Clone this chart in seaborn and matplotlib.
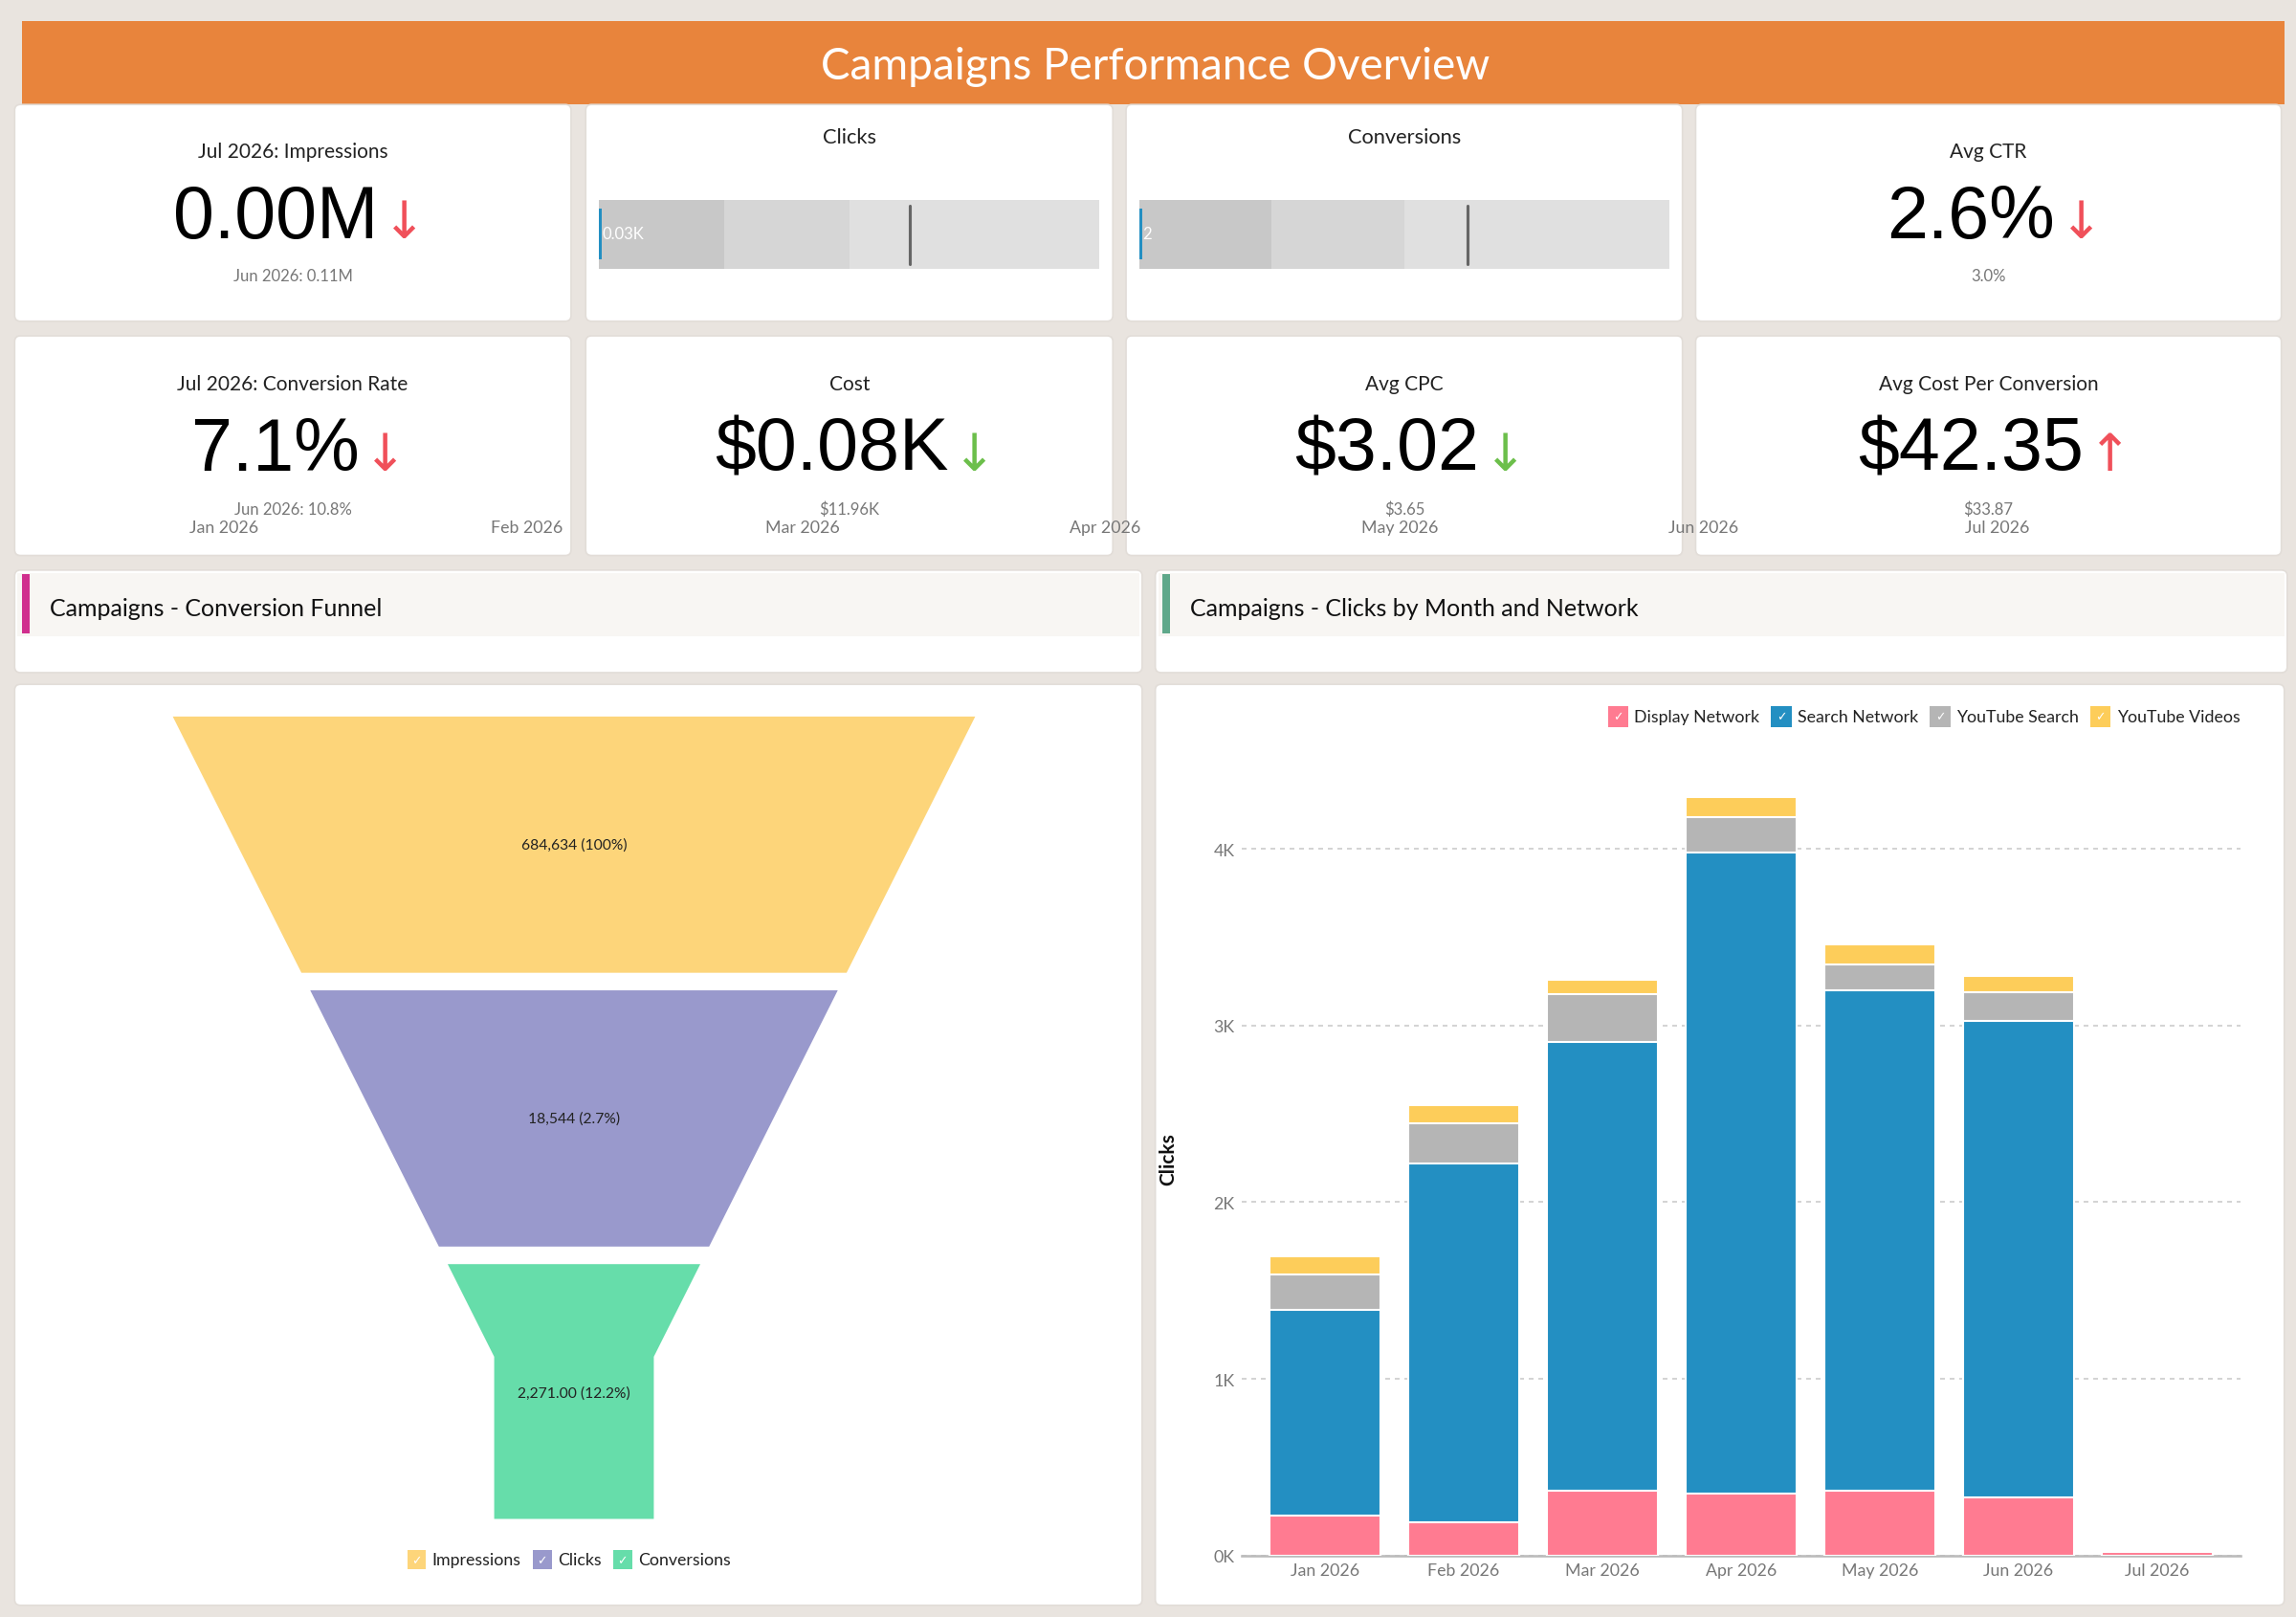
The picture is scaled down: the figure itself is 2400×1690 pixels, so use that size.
import matplotlib
matplotlib.use("Agg")
import matplotlib.pyplot as plt
import seaborn as sns
import pandas as pd
from matplotlib.patches import FancyBboxPatch, Rectangle, Polygon

sns.set_theme(style="white")
plt.rcParams['font.family'] = ['Lato', 'DejaVu Sans']

months = ["Jan 2026", "Feb 2026", "Mar 2026", "Apr 2026", "May 2026", "Jun 2026", "Jul 2026"]
display_net = [225, 189, 367, 351, 367, 328, 22]
search_net = [1168, 2031, 2541, 3629, 2832, 2699, 0]
yt_search = [198, 225, 268, 202, 146, 162, 8]
yt_videos = [100, 106, 80, 109, 112, 90, 0]
series_names = ["Display Network", "Search Network", "YouTube Search", "YouTube Videos"]
series_colors = ["#FF7B91", "#238FC2", "#B5B5B5", "#FDCD5A"]

funnel_stages = ["Impressions", "Clicks", "Conversions"]
funnel_labels = ["684,634 (100%)", "18,544 (2.7%)", "2,271.00 (12.2%)"]
funnel_colors = ["#FDD57A", "#9999CC", "#66DDAA"]

kpi_titles = ["Jul 2026: Impressions", "Clicks", "Conversions", "Avg CTR",
              "Jul 2026: Conversion Rate", "Cost", "Avg CPC", "Avg Cost Per Conversion"]
kpi_values = ["0.00M", None, None, "2.6%", "7.1%", "$0.08K", "$3.02", "$42.35"]
kpi_arrows = ["↓", None, None, "↓", "↓", "↓", "↓", "↑"]
kpi_arrow_colors = ["#F0505A", None, None, "#F0505A", "#F0505A", "#6CBF4B", "#6CBF4B", "#F0505A"]
kpi_subs = ["Jun 2026: 0.11M", None, None, "3.0%", "Jun 2026: 10.8%", "$11.96K", "$3.65", "$33.87"]
bullet_labels = ["0.03K", "2"]

W, H = 1568, 1105
fig = plt.figure(figsize=(16, 11.273), dpi=150)
fig.patch.set_facecolor("#E9E4DF")
ov = fig.add_axes([0, 0, 1, 1])
ov.set_xlim(0, W); ov.set_ylim(H, 0); ov.axis("off")

def card(x0, y0, x1, y1, fc="white", z=1):
    ov.add_patch(FancyBboxPatch((x0, y0), x1 - x0, y1 - y0,
                                boxstyle="round,pad=0,rounding_size=4",
                                fc=fc, ec="#E2DDD8", lw=0.8, zorder=z))

# header
ov.add_patch(Rectangle((15, 15), 1545, 57, fc="#E8843C", ec="none", zorder=1))
ov.text(789, 46, "Campaigns Performance Overview", color="white", fontsize=22,
        ha="center", va="center", zorder=3)

cols = [(10, 390), (400, 760), (769, 1149), (1158, 1558)]
rows = [(72, 220), (230, 380)]
for i, t in enumerate(kpi_titles):
    r, c = divmod(i, 4)
    x0, x1 = cols[c]; y0, y1 = rows[r]
    card(x0, y0, x1, y1, z=2)
    cx = (x0 + x1) / 2
    if kpi_values[i] is None:
        ov.text(cx, 94, t, fontsize=10.5, ha="center", va="center", color="#222", zorder=3)
        bx0, bx1 = x0 + 9, x1 - 9
        L = bx1 - bx0
        ov.add_patch(Rectangle((bx0, 137), L, 47, fc="#E0E0E0", ec="none", zorder=3))
        ov.add_patch(Rectangle((bx0, 137), L * 0.5, 47, fc="#D6D6D6", ec="none", zorder=3))
        ov.add_patch(Rectangle((bx0, 137), L * 0.25, 47, fc="#C8C8C8", ec="none", zorder=3))
        ov.plot([bx0 + L * 0.62] * 2, [141, 181], color="#666", lw=1.5, zorder=4)
        ov.add_patch(Rectangle((bx0, 143), 2, 35, fc="#238FC2", ec="none", zorder=4))
        ov.text(bx0 + 2, 160, bullet_labels[c - 1], color="white", fontsize=8,
                ha="left", va="center", zorder=5)
        continue
    ty = 104 if r == 0 else 263
    vy = 149 if r == 0 else 308
    sy = 189 if r == 0 else 348
    ov.text(cx, ty, t, fontsize=10, ha="center", va="center", color="#222", zorder=3)
    v = ov.text(cx - 12, vy, kpi_values[i], fontsize=37, ha="center", va="center",
                color="black", zorder=3, family=["Liberation Sans", "DejaVu Sans"])
    fig.canvas.draw()
    bb = v.get_window_extent().transformed(ov.transData.inverted())
    ov.text(bb.x1 + 3, vy + 4, kpi_arrows[i], fontsize=26, ha="left", va="center",
            color=kpi_arrow_colors[i], zorder=3, family=["DejaVu Sans"])
    ov.text(cx, sy, kpi_subs[i], fontsize=8, ha="center", va="center", color="#777", zorder=3)

# stray month labels
for m, x in zip(months, [153, 360, 548, 755, 956, 1163, 1364]):
    ov.text(x, 361, m, fontsize=8.5, ha="center", va="center", color="#777", zorder=6)

# panel headers
for (x0, x1, col, title) in [(10, 780, "#D02F8E", "Campaigns - Conversion Funnel"),
                             (789, 1562, "#5FA88A", "Campaigns - Clicks by Month and Network")]:
    card(x0, 390, x1, 460, z=2)
    ov.add_patch(Rectangle((x0 + 2, 392), x1 - x0 - 4, 43, fc="#F8F6F3", ec="none", zorder=3))
    ov.add_patch(Rectangle((x0 + 5, 393), 5, 40, fc=col, ec="none", zorder=4))
    ov.text(x0 + 24, 416, title, fontsize=12, ha="left", va="center", color="#111", zorder=4)
card(10, 468, 780, 1097, z=2)
card(789, 468, 1560, 1097, z=2)

# funnel
cxf, top, seg_h, gap, slope, neck_hw, bottom = 392, 490, 175, 12, 0.502, 54.5, 1038
def hw(y):
    return max(274 - slope * (y - top), neck_hw)
neck_y = top + (274 - neck_hw) / slope
for i, (lab, colr) in enumerate(zip(funnel_labels, funnel_colors)):
    y0 = top + i * (seg_h + gap)
    y1 = y0 + seg_h if i < len(funnel_labels) - 1 else bottom
    pts_r = [(cxf + hw(y0), y0)]
    if y0 < neck_y < y1:
        pts_r.append((cxf + neck_hw, neck_y))
    pts_r.append((cxf + hw(y1), y1))
    pts_l = [(2 * cxf - x, y) for x, y in reversed(pts_r)]
    ov.add_patch(Polygon(pts_r + pts_l, closed=True, fc=colr, ec="none", zorder=3))
    ov.text(cxf, (y0 + y0 + seg_h) / 2, lab, fontsize=7.5, ha="center", va="center",
            color="#222", zorder=4)
lx = 278
for name, colr in zip(funnel_stages, funnel_colors):
    ov.add_patch(Rectangle((lx, 1059), 13, 13, fc=colr, ec="none", zorder=4))
    ov.text(lx + 6.5, 1066, "✓", fontsize=6, color="white", ha="center", va="center", zorder=5,
            family=["DejaVu Sans"])
    t = ov.text(lx + 17, 1066, name, fontsize=8.5, ha="left", va="center", color="#222", zorder=4)
    fig.canvas.draw()
    bb = t.get_window_extent().transformed(ov.transData.inverted())
    lx = bb.x1 + 8

# bar chart legend
lx = 1098
for name, colr in zip(series_names, series_colors):
    ov.add_patch(Rectangle((lx, 483), 14, 14, fc=colr, ec="none", zorder=4))
    ov.text(lx + 7, 490, "✓", fontsize=6, color="white", ha="center", va="center", zorder=5,
            family=["DejaVu Sans"])
    t = ov.text(lx + 18, 490, name, fontsize=8.5, ha="left", va="center", color="#222", zorder=4)
    fig.canvas.draw()
    bb = t.get_window_extent().transformed(ov.transData.inverted())
    lx = bb.x1 + 8

# stacked bars
df = pd.DataFrame({"month": months, "d": display_net, "s": search_net,
                   "ys": yt_search, "yv": yt_videos})
cum = [df["d"], df["d"] + df["s"], df["d"] + df["s"] + df["ys"],
       df["d"] + df["s"] + df["ys"] + df["yv"]]
ax = fig.add_axes([848 / W, 1 - 1063 / H, (1530 - 848) / W, (1063 - 520) / H])
ax.set_facecolor("none")
for vals, colr in zip(reversed(cum), reversed(series_colors)):
    sns.barplot(x=df["month"], y=vals, color=colr, width=0.8, ax=ax,
                saturation=1, zorder=3)
ax.set_ylim(0, 4500)
ax.set_yticks([0, 1000, 2000, 3000, 4000])
ax.set_yticklabels(["0K", "1K", "2K", "3K", "4K"])
ax.yaxis.grid(True, ls=(0, (3, 3)), color="#CCCCCC", lw=0.8)
ax.set_axisbelow(True)
ax.tick_params(axis="both", colors="#777", labelsize=8.5, length=0)
ax.set_xlabel("")
ax.set_ylabel("Clicks", fontsize=10, fontweight="bold", color="#111", labelpad=18)
for s in ["top", "right", "left"]:
    ax.spines[s].set_visible(False)
ax.spines["bottom"].set_color("#BBBBBB")
ax.set_xlim(-0.6, 6.6)

fig.savefig("out.png", dpi=150, facecolor=fig.get_facecolor())
